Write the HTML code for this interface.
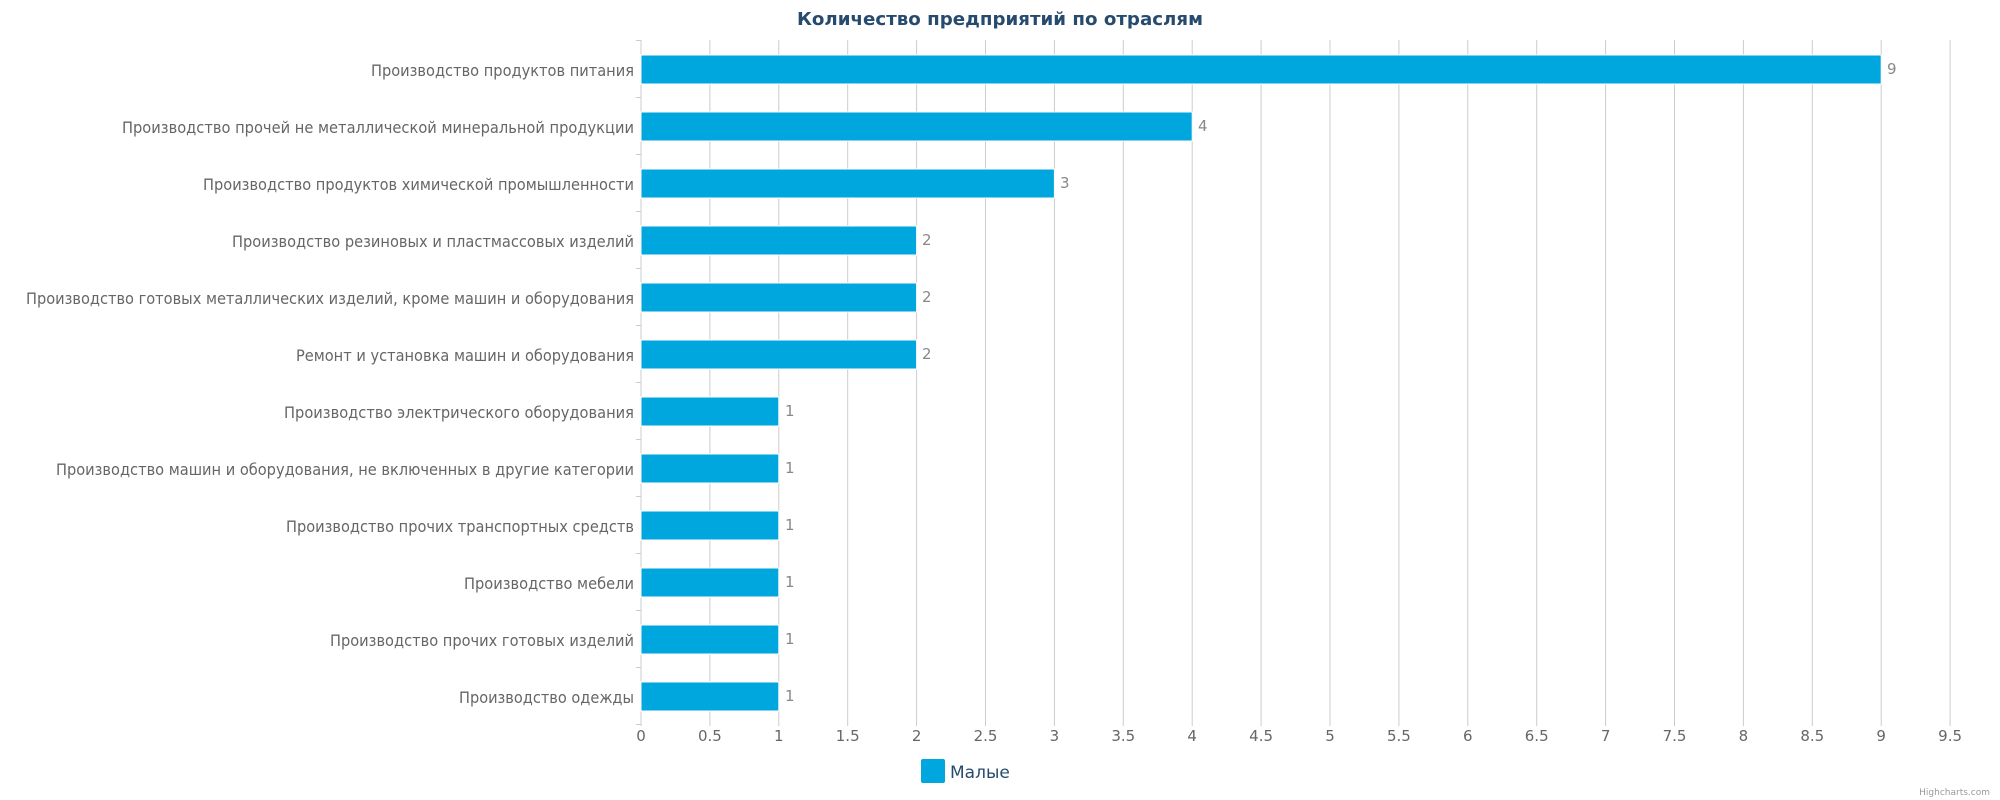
<!DOCTYPE html>
<html><head><meta charset="utf-8"><style>
html,body{margin:0;padding:0;background:#fff;}
svg{display:block;font-family:"DejaVu Sans","Liberation Sans",sans-serif;}
.lbl{font-family:"DejaVu Sans Condensed","DejaVu Sans","Liberation Sans",sans-serif;}
</style></head><body>
<svg width="2000" height="800" viewBox="0 0 2000 800" xmlns="http://www.w3.org/2000/svg">
<rect width="2000" height="800" fill="#fff"/>
<text x="1000" y="25" text-anchor="middle" font-size="18" font-weight="bold" fill="#274b6d" textLength="406" lengthAdjust="spacingAndGlyphs">Количество предприятий по отраслям</text>
<g stroke="#cccccc" stroke-width="1">
<line x1="709.9" y1="40" x2="709.9" y2="726"/>
<line x1="778.8" y1="40" x2="778.8" y2="726"/>
<line x1="847.7" y1="40" x2="847.7" y2="726"/>
<line x1="916.6" y1="40" x2="916.6" y2="726"/>
<line x1="985.5" y1="40" x2="985.5" y2="726"/>
<line x1="1054.4" y1="40" x2="1054.4" y2="726"/>
<line x1="1123.3" y1="40" x2="1123.3" y2="726"/>
<line x1="1192.2" y1="40" x2="1192.2" y2="726"/>
<line x1="1261.1" y1="40" x2="1261.1" y2="726"/>
<line x1="1330" y1="40" x2="1330" y2="726"/>
<line x1="1398.9" y1="40" x2="1398.9" y2="726"/>
<line x1="1467.8" y1="40" x2="1467.8" y2="726"/>
<line x1="1536.7" y1="40" x2="1536.7" y2="726"/>
<line x1="1605.6" y1="40" x2="1605.6" y2="726"/>
<line x1="1674.5" y1="40" x2="1674.5" y2="726"/>
<line x1="1743.4" y1="40" x2="1743.4" y2="726"/>
<line x1="1812.3" y1="40" x2="1812.3" y2="726"/>
<line x1="1881.2" y1="40" x2="1881.2" y2="726"/>
<line x1="1950.1" y1="40" x2="1950.1" y2="726"/>
<line x1="641" y1="40" x2="641" y2="726"/>
</g>
<g stroke="#cccccc" stroke-width="1">
<line x1="636" y1="40.5" x2="641" y2="40.5"/>
<line x1="636" y1="97.5" x2="641" y2="97.5"/>
<line x1="636" y1="154.5" x2="641" y2="154.5"/>
<line x1="636" y1="211.5" x2="641" y2="211.5"/>
<line x1="636" y1="268.5" x2="641" y2="268.5"/>
<line x1="636" y1="325.5" x2="641" y2="325.5"/>
<line x1="636" y1="382.5" x2="641" y2="382.5"/>
<line x1="636" y1="439.5" x2="641" y2="439.5"/>
<line x1="636" y1="496.5" x2="641" y2="496.5"/>
<line x1="636" y1="553.5" x2="641" y2="553.5"/>
<line x1="636" y1="610.5" x2="641" y2="610.5"/>
<line x1="636" y1="667.5" x2="641" y2="667.5"/>
<line x1="636" y1="724.5" x2="641" y2="724.5"/>
</g>
<g fill="#00a6de" stroke="#fff" stroke-width="1">
<rect x="641" y="55" width="1240.2" height="29"/>
<rect x="641" y="112" width="551.2" height="29"/>
<rect x="641" y="169" width="413.4" height="29"/>
<rect x="641" y="226" width="275.6" height="29"/>
<rect x="641" y="283" width="275.6" height="29"/>
<rect x="641" y="340" width="275.6" height="29"/>
<rect x="641" y="397" width="137.8" height="29"/>
<rect x="641" y="454" width="137.8" height="29"/>
<rect x="641" y="511" width="137.8" height="29"/>
<rect x="641" y="568" width="137.8" height="29"/>
<rect x="641" y="625" width="137.8" height="29"/>
<rect x="641" y="682" width="137.8" height="29"/>
</g>
<g font-size="15" fill="#888">
<text x="1887" y="74">9</text>
<text x="1198" y="131">4</text>
<text x="1060" y="188">3</text>
<text x="922" y="245">2</text>
<text x="922" y="302">2</text>
<text x="922" y="359">2</text>
<text x="785" y="416">1</text>
<text x="785" y="473">1</text>
<text x="785" y="530">1</text>
<text x="785" y="587">1</text>
<text x="785" y="644">1</text>
<text x="785" y="701">1</text>
</g>
<g class="lbl" font-size="16" fill="#666" text-anchor="end">
<text x="634" y="76" textLength="263" lengthAdjust="spacingAndGlyphs">Производство продуктов питания</text>
<text x="634" y="133" textLength="512" lengthAdjust="spacingAndGlyphs">Производство прочей не металлической минеральной продукции</text>
<text x="634" y="190" textLength="431" lengthAdjust="spacingAndGlyphs">Производство продуктов химической промышленности</text>
<text x="634" y="247" textLength="402" lengthAdjust="spacingAndGlyphs">Производство резиновых и пластмассовых изделий</text>
<text x="634" y="304" textLength="608" lengthAdjust="spacingAndGlyphs">Производство готовых металлических изделий, кроме машин и оборудования</text>
<text x="634" y="361" textLength="338" lengthAdjust="spacingAndGlyphs">Ремонт и установка машин и оборудования</text>
<text x="634" y="418" textLength="350" lengthAdjust="spacingAndGlyphs">Производство электрического оборудования</text>
<text x="634" y="475" textLength="578" lengthAdjust="spacingAndGlyphs">Производство машин и оборудования, не включенных в другие категории</text>
<text x="634" y="532" textLength="348" lengthAdjust="spacingAndGlyphs">Производство прочих транспортных средств</text>
<text x="634" y="589" textLength="170" lengthAdjust="spacingAndGlyphs">Производство мебели</text>
<text x="634" y="646" textLength="304" lengthAdjust="spacingAndGlyphs">Производство прочих готовых изделий</text>
<text x="634" y="703" textLength="175" lengthAdjust="spacingAndGlyphs">Производство одежды</text>
</g>
<g font-size="15" fill="#666" text-anchor="middle">
<text x="641" y="741">0</text>
<text x="709.9" y="741">0.5</text>
<text x="778.8" y="741">1</text>
<text x="847.7" y="741">1.5</text>
<text x="916.6" y="741">2</text>
<text x="985.5" y="741">2.5</text>
<text x="1054.4" y="741">3</text>
<text x="1123.3" y="741">3.5</text>
<text x="1192.2" y="741">4</text>
<text x="1261.1" y="741">4.5</text>
<text x="1330" y="741">5</text>
<text x="1398.9" y="741">5.5</text>
<text x="1467.8" y="741">6</text>
<text x="1536.7" y="741">6.5</text>
<text x="1605.6" y="741">7</text>
<text x="1674.5" y="741">7.5</text>
<text x="1743.4" y="741">8</text>
<text x="1812.3" y="741">8.5</text>
<text x="1881.2" y="741">9</text>
<text x="1950.1" y="741">9.5</text>
</g>
<rect x="921" y="759" width="24" height="24" rx="2" fill="#00a6de"/>
<text x="950" y="778" font-size="17" fill="#274b6d">Малые</text>
<text x="1990" y="795" font-size="9" fill="#999" text-anchor="end">Highcharts.com</text>
</svg>
</body></html>
